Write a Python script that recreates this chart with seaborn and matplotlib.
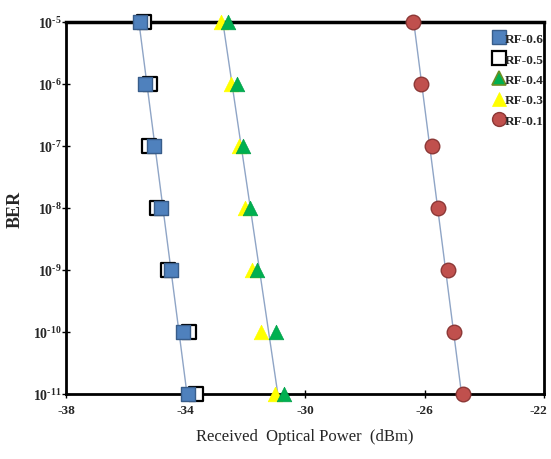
import matplotlib
matplotlib.use("Agg")
import matplotlib.pyplot as plt
import matplotlib.transforms as mtrans
import seaborn as sns
import numpy as np
import pandas as pd

# ---- data ----
ber = [1e-5, 1e-6, 1e-7, 1e-8, 1e-9, 1e-10, 1e-11]
rf06 = [-35.53, -35.36, -35.06, -34.82, -34.49, -34.09, -33.92]
rf05 = [-35.39, -35.19, -35.22, -34.96, -34.59, -33.89, -33.65]
rf04 = [-32.58, -32.28, -32.08, -31.85, -31.61, -30.98, -30.71]
rf03 = [-32.82, -32.48, -32.21, -32.01, -31.78, -31.48, -31.01]
rf01 = [-26.39, -26.13, -25.76, -25.56, -25.22, -25.02, -24.72]
trend_ber = [1e-5, 1e-11]
trend_sq = [-35.56, -33.95]
trend_tri = [-32.75, -30.91]
trend_circ = [-26.36, -24.76]
xticks = [-38, -34, -30, -26, -22]
yticks = [1e-5, 1e-6, 1e-7, 1e-8, 1e-9, 1e-10, 1e-11]
ytick_labels = [r"$\mathbf{10^{\text{-}%d}}$" % k for k in range(5, 12)]

sns.set_theme(style="white")
plt.rcParams["font.family"] = ["Liberation Serif", "DejaVu Serif"]
plt.rcParams["mathtext.fontset"] = "custom"
plt.rcParams["mathtext.rm"] = "Liberation Serif:bold"
plt.rcParams["mathtext.bf"] = "Liberation Serif:bold"

fig = plt.figure(figsize=(5.51, 4.6), dpi=100)
ax = fig.add_axes([0.1198, 0.1413, 0.8675, 0.8087])

line_col = "#8fa5c6"
for tx in (trend_sq, trend_tri, trend_circ):
    sns.lineplot(x=tx, y=trend_ber, ax=ax, color=line_col, lw=1.0,
                 zorder=2, legend=False)

series = [
    ("RF-0.5", rf05, "s", "white", "black", 1.6, 3),
    ("RF-0.6", rf06, "s", "#4f81bd", "#385d8a", 1.0, 4),
    ("RF-0.3", rf03, "^", "#ffff00", "#ffff00", 0.5, 5),
    ("RF-0.4", rf04, "^", "#00b050", "#00a04a", 0.5, 6),
    ("RF-0.1", rf01, "o", "#c0504d", "#8c3836", 1.0, 7),
]
handles = {}
for name, xs, mk, fc, ec, lw, z in series:
    df = pd.DataFrame({"x": xs, "y": ber})
    sns.scatterplot(data=df, x="x", y="y", ax=ax, marker=mk, s=110,
                    color=fc, edgecolor=ec, linewidth=lw, zorder=z,
                    clip_on=False, legend=False)
    handles[name] = plt.Line2D([], [], marker=mk, ls="none", markersize=10,
                               markerfacecolor=fc, markeredgecolor=ec,
                               markeredgewidth=lw if name != "RF-0.4" else 1.2,
                               label=name)
handles["RF-0.4"].set_markeredgecolor("#6b8e23")

ax.set_yscale("log")
ax.set_xlim(-38, -22)
ax.set_ylim(1e-11, 1e-5)
ax.set_xticks(xticks)
ax.set_xticklabels([str(t) for t in xticks], fontweight="bold", fontsize=9.5)
ax.set_yticks(yticks)
ax.set_yticklabels(ytick_labels, fontsize=10)
ax.minorticks_off()
ax.yaxis.set_minor_locator(matplotlib.ticker.NullLocator())
ax.tick_params(axis="both", direction="inout", length=6, width=1.0,
               color="black", bottom=True, left=True)
ax.tick_params(axis="x", pad=4)
ax.tick_params(axis="y", pad=0)

last = ax.get_xticklabels()[-1]
last.set_transform(last.get_transform() +
                   mtrans.ScaledTranslation(-4 / 72, 0, fig.dpi_scale_trans))

for side in ["left", "bottom", "right", "top"]:
    ax.spines[side].set_color("black")
    ax.spines[side].set_linewidth(2.0)
ax.spines["top"].set_linewidth(2.5)

ax.set_xlabel("Received  Optical Power  (dBm)", fontsize=12, labelpad=9)
ax.set_ylabel("BER", fontsize=13, fontweight="bold", labelpad=7)

order = ["RF-0.6", "RF-0.5", "RF-0.4", "RF-0.3", "RF-0.1"]
leg = ax.legend(handles=[handles[k] for k in order], loc="upper right",
                bbox_to_anchor=(1.01, 0.985), frameon=False,
                handlelength=0.8, handletextpad=0.05, labelspacing=0.62,
                borderaxespad=0.0, prop={"weight": "bold", "size": 9.5})
leg.set_zorder(10)

fig.savefig("out.png", dpi=100)
